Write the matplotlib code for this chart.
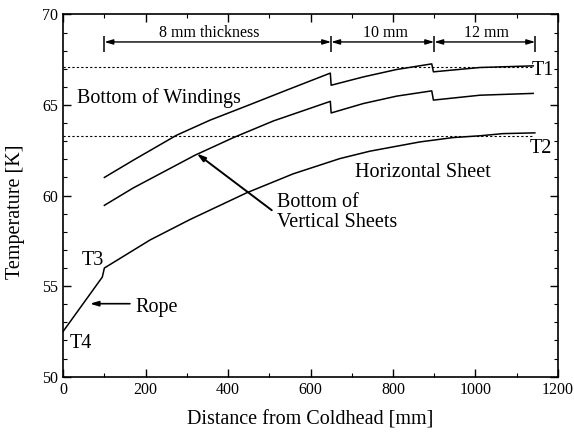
import numpy as np
import matplotlib.pyplot as plt
from matplotlib.ticker import MultipleLocator

plt.rcParams['font.family'] = ['Liberation Serif', 'DejaVu Serif']

# Horizontal sheet (rope from T4 to T3, then sheet to T2)
hs_x = [0, 95, 100, 211, 308, 445, 558, 671, 744, 865, 945, 1011, 1067, 1144]
hs_t = [52.5, 55.5, 56.0, 57.55, 58.68, 60.15, 61.2, 62.04, 62.45, 62.96, 63.2, 63.3, 63.42, 63.46]

# Bottom of windings (top curve, T1)
bw_x = [100, 170, 275, 356, 453, 542, 648, 650, 728, 809, 894, 898, 1011, 1140]
bw_t = [61.0, 61.95, 63.33, 64.16, 65.02, 65.82, 66.76, 66.09, 66.55, 66.96, 67.27, 66.83, 67.07, 67.16]

# Bottom of vertical sheets (middle curve)
vs_x = [100, 170, 320, 413, 510, 648, 650, 728, 809, 894, 898, 1011, 1140]
vs_t = [59.46, 60.42, 62.23, 63.2, 64.12, 65.2, 64.56, 65.08, 65.49, 65.78, 65.27, 65.54, 65.64]

# reference levels
t1_level = 67.07
t2_level = 63.27

# thickness sections
sec_edges = [100, 650, 900, 1145]
sec_labels = ['8 mm thickness', '10 mm', '12 mm']
sec_label_x = [355, 782, 1027]

fig = plt.figure(figsize=(5.74, 4.37), dpi=100)
ax = fig.add_axes([0.11, 0.138, 0.862, 0.829])

lw = 1.1
ax.plot(hs_x, hs_t, color='black', lw=lw)
ax.plot(bw_x, bw_t, color='black', lw=lw)
ax.plot(vs_x, vs_t, color='black', lw=lw)

ax.plot([0, 1140], [t1_level, t1_level], color='black', lw=0.8, ls=(0, (2, 2)))
ax.plot([0, 1140], [t2_level, t2_level], color='black', lw=0.8, ls=(0, (2, 2)))

# dimension arrows
y_arr = 68.48
for i in range(len(sec_labels)):
    ax.annotate('', xy=(sec_edges[i + 1], y_arr), xytext=(sec_edges[i], y_arr),
                arrowprops=dict(arrowstyle='<|-|>,head_length=0.5,head_width=0.15',
                                color='black', lw=1.0, shrinkA=0, shrinkB=0))
    ax.text(sec_label_x[i], 68.75, sec_labels[i], ha='center', va='baseline', fontsize=11.5)
ax.vlines(sec_edges, 67.95, 68.8, color='black', lw=1.1)

fs = 14.5
ax.text(34, 65.1, 'Bottom of Windings', fontsize=fs, va='baseline')
ax.text(708, 61.03, 'Horizontal Sheet', fontsize=fs, va='baseline')
ax.text(518, 58.25, 'Bottom of\nVertical Sheets', fontsize=fs, va='baseline', linespacing=1.1)
ax.text(1136, 66.65, 'T1', fontsize=fs, va='baseline')
ax.text(1132, 62.34, 'T2', fontsize=fs, va='baseline')
ax.text(46, 56.15, 'T3', fontsize=fs, va='baseline')
ax.text(17, 51.6, 'T4', fontsize=fs, va='baseline')
ax.text(175, 53.55, 'Rope', fontsize=fs, va='baseline')

ax.annotate('', xy=(324, 62.32), xytext=(506, 59.19),
            arrowprops=dict(arrowstyle='-|>,head_length=0.5,head_width=0.15',
                            color='black', lw=1.4, shrinkA=0, shrinkB=0))
ax.annotate('', xy=(65, 54.03), xytext=(162, 54.03),
            arrowprops=dict(arrowstyle='-|>,head_length=0.5,head_width=0.15',
                            color='black', lw=1.2, shrinkA=0, shrinkB=0))

ax.set_xlim(0, 1200)
ax.set_ylim(50, 70)
ax.xaxis.set_major_locator(MultipleLocator(200))
ax.xaxis.set_minor_locator(MultipleLocator(100))
ax.yaxis.set_major_locator(MultipleLocator(5))
ax.yaxis.set_minor_locator(MultipleLocator(1))
ax.tick_params(which='both', direction='in', top=True, right=True, labelsize=11.5)
ax.tick_params(which='major', length=6, width=1.0)
ax.tick_params(which='minor', length=3, width=0.8)
for s in ax.spines.values():
    s.set_linewidth(1.2)

ax.set_xlabel('Distance from Coldhead [mm]', fontsize=14.5, labelpad=9)
ax.set_ylabel('Temperature [K]', fontsize=14.5)
ax.yaxis.set_label_coords(-0.077, 0.456)

fig.savefig('out.png', dpi=100)
